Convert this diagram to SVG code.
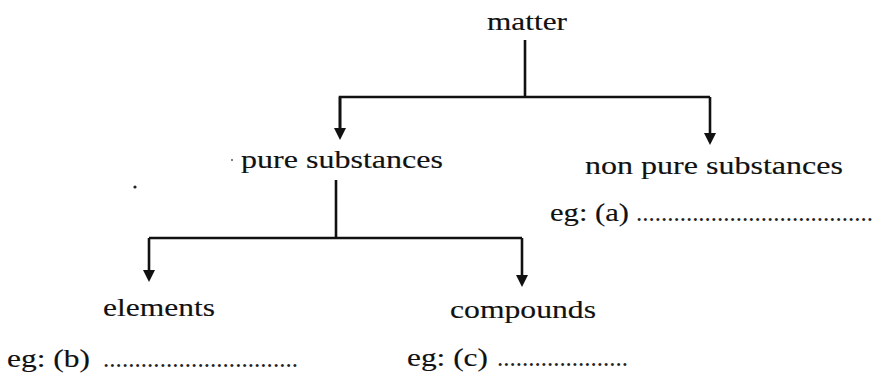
<svg xmlns="http://www.w3.org/2000/svg" width="878" height="378" viewBox="0 0 878 378">
  <style>
    .t { font-family: "Liberation Serif", "Times New Roman", serif; font-size: 26px; fill: #111; stroke: #111; stroke-width: 0.15; }
    .d { font-family: "Liberation Serif", "Times New Roman", serif; font-size: 25px; fill: #222; }
    .c { fill: none; stroke: #111; stroke-width: 2.6; }
  </style>
  <defs>
    <marker id="arrow" viewBox="0 0 12 12" refX="6" refY="6" markerWidth="12" markerHeight="12" markerUnits="userSpaceOnUse" orient="auto">
      <path d="M0,0 L12,6 L0,12 Z" fill="#111"/>
    </marker>
  </defs>
  <rect width="878" height="378" fill="#fff"/>

  <g id="connectors">
    <path class="c" d="M525,40 V97"/>
    <path class="c" d="M340,134 V97 H710"/>
    <path class="c" d="M340,97 V134" marker-end="url(#arrow)"/>
    <path class="c" d="M710,97 V139" marker-end="url(#arrow)"/>
    <path class="c" d="M336,180 V238.5"/>
    <path class="c" d="M149,238 H522"/>
    <path class="c" d="M149,238 V276" marker-end="url(#arrow)"/>
    <path class="c" d="M522,238 V281" marker-end="url(#arrow)"/>
  </g>

  <g id="matter">
    <text class="t" x="487" y="30" textLength="80" lengthAdjust="spacingAndGlyphs">matter</text>
  </g>
  <g id="pure-substances">
    <text class="t" x="241" y="168" textLength="202" lengthAdjust="spacingAndGlyphs">pure substances</text>
  </g>
  <g id="non-pure-substances">
    <text class="t" x="585" y="174" textLength="258" lengthAdjust="spacingAndGlyphs">non pure substances</text>
  </g>
  <g id="eg-a">
    <text class="t" x="550" y="221" textLength="79" lengthAdjust="spacingAndGlyphs">eg: (a)</text>
    <text class="d" x="636" y="221" textLength="237" lengthAdjust="spacing">......................................</text>
  </g>
  <g id="elements">
    <text class="t" x="103" y="316" textLength="112" lengthAdjust="spacingAndGlyphs">elements</text>
  </g>
  <g id="compounds">
    <text class="t" x="450" y="318" textLength="146" lengthAdjust="spacingAndGlyphs">compounds</text>
  </g>
  <g id="eg-b">
    <text class="t" x="7" y="367" textLength="83" lengthAdjust="spacingAndGlyphs">eg: (b)</text>
    <text class="d" x="103" y="367" textLength="195" lengthAdjust="spacing">...............................</text>
  </g>
  <g id="eg-c">
    <text class="t" x="407" y="366" textLength="81" lengthAdjust="spacingAndGlyphs">eg: (c)</text>
    <text class="d" x="497" y="366" textLength="131" lengthAdjust="spacing">.....................</text>
  </g>

  <circle cx="135" cy="187" r="1.6" fill="#222"/>
  <circle cx="232" cy="160" r="1" fill="#555"/>
</svg>
